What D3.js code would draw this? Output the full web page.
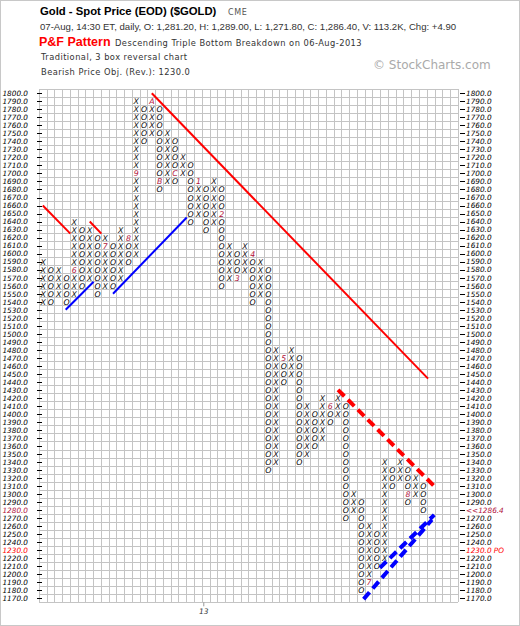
<!DOCTYPE html>
<html>
<head>
<meta charset="utf-8">
<script src="https://cdn.jsdelivr.net/npm/d3@7"></script>
<style>
  body { margin: 0; background: #fff; }
  svg { display: block; font-family: "DejaVu Sans", Verdana, sans-serif; }
</style>
</head>
<body>
<script>
const W = 520, H = 626;

// P&F columns, left to right
const colTypes = ['X','O','X','O','X','O','X','O','X','O','X','O','X','O','X','O','X','O','X','O',
  'X','O','X','O','X','O','X','O','X','O','X','O','X','O','X','O','X','O','X','O',
  'X','O','X','O','X','O','X','O','X','O'];
const colTops = [1590,1580,1580,1570,1640,1630,1630,1620,1620,1610,1630,1620,1790,1780,1790,1780,1750,1740,1720,1710,
  1690,1680,1690,1680,1610,1600,1610,1600,1590,1580,1480,1470,1480,1470,1410,1400,1420,1410,1420,1410,
  1300,1290,1260,1250,1340,1330,1340,1330,1320,1310];
const colBottoms = [1540,1540,1550,1540,1550,1560,1570,1550,1560,1560,1570,1590,1600,1740,1750,1680,1690,1690,1700,1640,
  1650,1630,1640,1560,1570,1570,1580,1540,1550,1330,1340,1440,1450,1340,1350,1360,1370,1390,1400,1270,
  1280,1180,1190,1210,1220,1310,1320,1290,1300,1280];
// month markers [column, price, label]
const markers = [[4,1580,'6'],[8,1610,'7'],[11,1620,'8'],[12,1700,'9'],[14,1790,'A'],[15,1690,'B'],[17,1700,'C'],
  [20,1690,'1'],[23,1650,'2'],[25,1570,'3'],[27,1600,'4'],[31,1470,'5'],[37,1410,'6'],[42,1190,'7'],[47,1300,'8']];
// trend lines [col0, price0, col1, price1]
const redLines = [[-0.05,1660,3.5,1625],[6,1640,7.5,1625],[14,1800,49.6,1444]];
const blueLines = [[2.9,1530,6.5,1565],[9,1550,18.5,1645]];
const redDashed = [[38,1430,50.7,1307]];
const blueDashed = [[41.3,1169,50.1,1268],[43.4,1208,50.4,1274]];
const priceTicks = d3.range(1800, 1169, -10);

const x = d3.scaleLinear().domain([-0.5, 53.5]).range([39.3, 458.3]);
const y = d3.scaleLinear().domain([1805, 1165]).range([89.3, 602.3]);

const svg = d3.select('body').append('svg')
  .attr('width', W).attr('height', H);

svg.append('rect').attr('x', 0.5).attr('y', 0.5).attr('width', W - 1).attr('height', H - 1)
  .attr('fill', '#fff').attr('stroke', '#c8c8c8');

// header
const hd = svg.append('g');
hd.append('text').attr('x', 40).attr('y', 15).attr('font-family', 'Arial, "Liberation Sans"')
  .attr('font-weight', 'bold').attr('font-size', 11.3).text('Gold - Spot Price (EOD) ($GOLD)');
hd.append('text').attr('x', 228).attr('y', 15).attr('font-size', 8).attr('fill', '#555')
  .attr('letter-spacing', 0.6).text('CME');
hd.append('text').attr('x', 40).attr('y', 30).attr('font-family', 'Arial, "Liberation Sans"')
  .attr('font-size', 9.6).attr('fill', '#333')
  .text('07-Aug, 14:30 ET, daily, O: 1,281.20, H: 1,289.00, L: 1,271.80, C: 1,286.40, V: 113.2K, Chg: +4.90');
hd.append('text').attr('x', 39).attr('y', 46).attr('font-family', 'Arial, "Liberation Sans"')
  .attr('font-weight', 'bold').attr('font-size', 12.5).attr('fill', '#f00').text('P&F Pattern');
hd.append('text').attr('x', 115).attr('y', 46).attr('font-size', 8.3).attr('fill', '#333')
  .attr('letter-spacing', 0.45).text('Descending Triple Bottom Breakdown on 06-Aug-2013');
hd.append('text').attr('x', 41).attr('y', 60).attr('font-size', 8.3).attr('fill', '#333')
  .attr('letter-spacing', 0.45).text('Traditional, 3 box reversal chart');
hd.append('text').attr('x', 41).attr('y', 75).attr('font-size', 8.3).attr('fill', '#333')
  .attr('letter-spacing', 0.45).text('Bearish Price Obj. (Rev.): 1230.0');
hd.append('text').attr('x', 373).attr('y', 69).attr('font-size', 12).attr('fill', '#aaa')
  .text('\u00a9 StockCharts.com');

// grid
const grid = svg.append('g').attr('stroke', '#c4c4c4').attr('shape-rendering', 'crispEdges');
grid.selectAll('line.v').data(d3.range(-0.5, 54, 1)).join('line')
  .attr('x1', d => x(d)).attr('x2', d => x(d)).attr('y1', y(1805)).attr('y2', y(1165));
grid.selectAll('line.h').data(d3.range(1805, 1160, -10)).join('line')
  .attr('y1', d => y(d)).attr('y2', d => y(d)).attr('x1', x(-0.5)).attr('x2', x(53.5));

// axes
const fmt = d => d.toFixed(1);
const left = svg.append('g').attr('transform', 'translate(42,0)')
  .call(d3.axisLeft(y).tickValues(priceTicks).tickFormat(fmt).tickSize(5).tickPadding(9));
const right = svg.append('g').attr('transform', 'translate(460,0)')
  .call(d3.axisRight(y).tickValues(priceTicks).tickFormat(fmt).tickSize(5).tickPadding(1));
[left, right].forEach(g => {
  g.select('.domain').remove();
  g.selectAll('line').attr('stroke', '#000').attr('shape-rendering', 'crispEdges');
  g.selectAll('text').attr('font-size', 7.3).attr('font-style', 'italic')
    .attr('font-family', '"DejaVu Sans", sans-serif').attr('fill', '#000');
});
left.selectAll('.tick').filter(d => d === 1280).select('text').attr('fill', '#b0103a');
left.selectAll('.tick').filter(d => d === 1230).select('text').attr('fill', '#f00');
right.selectAll('.tick').filter(d => d === 1280).select('text').attr('fill', '#b0103a').text('<<1286.4');
right.selectAll('.tick').filter(d => d === 1230).select('text').attr('fill', '#f00').text('1230.0 PO');

// date axis
svg.append('line').attr('x1', x(20.7)).attr('x2', x(20.7)).attr('y1', y(1165)).attr('y2', y(1165) + 4)
  .attr('stroke', '#999');
svg.append('text').attr('x', x(20.7)).attr('y', 614).attr('text-anchor', 'middle')
  .attr('font-size', 7.5).attr('font-style', 'italic').attr('fill', '#333').text('13');

// boxes
const boxes = [];
colTypes.forEach((t, i) => {
  for (let p = colBottoms[i]; p <= colTops[i]; p += 10) {
    const m = markers.find(k => k[0] === i && k[1] === p);
    boxes.push({col: i, price: p, label: m ? m[2] : t, marker: !!m});
  }
});
svg.append('g').selectAll('text').data(boxes).join('text')
  .attr('x', d => x(d.col)).attr('y', d => y(d.price) + 3)
  .attr('text-anchor', 'middle').attr('font-size', 7.8).attr('font-style', 'italic')
  .attr('fill', d => d.marker ? '#b0103a' : '#000')
  .text(d => d.label);

// trend lines
const drawLines = (data, color, width, dash) => svg.append('g').selectAll('line').data(data).join('line')
  .attr('x1', d => x(d[0])).attr('y1', d => y(d[1]))
  .attr('x2', d => x(d[2])).attr('y2', d => y(d[3]))
  .attr('stroke', color).attr('stroke-width', width)
  .attr('stroke-dasharray', dash);
drawLines(redLines, '#f00', 2, null);
drawLines(blueLines, '#00f', 2, null);
drawLines(redDashed, '#f00', 4, '9,5');
drawLines(blueDashed, '#00f', 4, '9,5');
</script>
</body>
</html>
